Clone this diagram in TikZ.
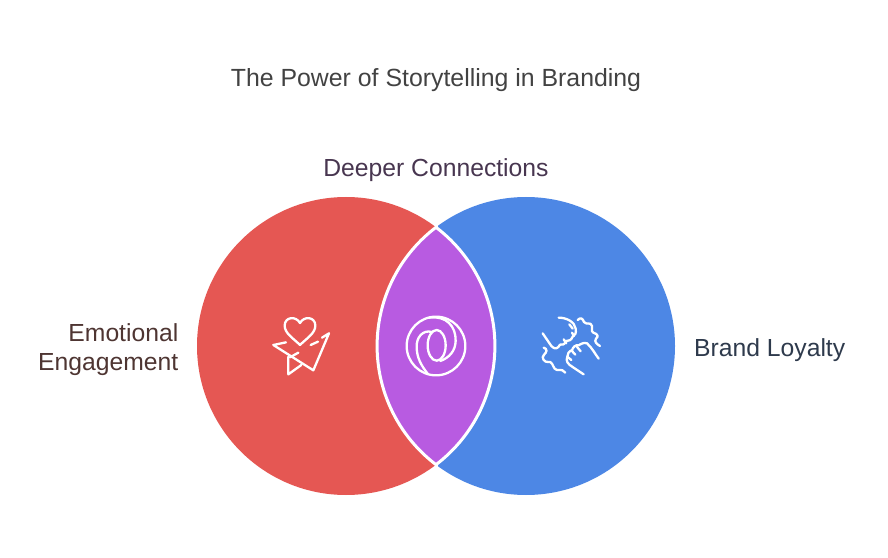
\documentclass[tikz,border=0pt]{standalone}
\usepackage{fontspec}
\setmainfont{Liberation Sans}
\usepackage{xcolor}
\definecolor{circleColorA}{HTML}{E55753}
\definecolor{circleColorB}{HTML}{4D87E5}
\definecolor{lensColor}{HTML}{B85BE1}
\definecolor{titleColor}{HTML}{424242}
\definecolor{labelColorA}{HTML}{4E3532}
\definecolor{labelColorB}{HTML}{2E3A4C}
\definecolor{labelColorC}{HTML}{483650}
\def\textTitle{The Power of Storytelling in Branding}
\def\textA{Emotional\\Engagement}
\def\textB{Brand Loyalty}
\def\textC{Deeper Connections}
\tikzset{
  label text/.style={inner sep=0pt, font=\fontsize{24.7bp}{29bp}\selectfont},
  icon line/.style={draw=white, line width=2.3bp, line cap=round, line join=round},
}
\begin{document}
\begin{tikzpicture}[x=1bp,y=-1bp]
\useasboundingbox (0, 0) rectangle (888, 558);

\coordinate (centerA) at (346, 346);
\coordinate (centerB) at (526, 346);
\coordinate (lensTop) at (436, 227.3);
\coordinate (lensBottom) at (436, 464.7);

% circle layer
\begin{scope}
\fill[circleColorA] (centerA) circle (149);
\fill[circleColorB] (centerB) circle (149);
\fill[lensColor, draw=white, line width=3bp, line join=miter]
(lensTop) arc[start angle=-52.8, end angle=52.8, radius=149]
arc[start angle=127.2, end angle=232.8, radius=149] -- cycle;
\draw[white, line width=3bp] (lensTop) -- ++(0, -5);
\draw[white, line width=3bp] (lensBottom) -- ++(0, 5);
\end{scope}

% label layer
\begin{scope}
\node[label text, text=titleColor, font=\fontsize{24.85bp}{29bp}\selectfont] (title) at (436, 80) {\textTitle};
\node[label text, text=labelColorC] (labelC) at (436, 170) {\textC};
\node[label text, text=labelColorA, align=right, anchor=east] (labelA) at (178.5, 350) {\textA};
\node[label text, text=labelColorB, anchor=west] (labelB) at (694, 350) {\textB};
\end{scope}

% icon layer
\begin{scope}[shift={(260, 305)}, scale=1/3]
% heart
\draw[icon line] (120, 120) .. controls (100, 100) and (74, 85) .. (74, 62)
.. controls (74, 35) and (108, 32) .. (120, 54)
.. controls (132, 32) and (166, 35) .. (166, 62)
.. controls (166, 85) and (140, 100) .. (120, 120) -- cycle;
% plane
\draw[icon line] (186, 98) -- (207, 85) -- (160, 196) -- (40, 120) -- (78, 112);
\draw[icon line] (152, 120) -- (174, 110);
\draw[icon line] (90, 157) -- (115, 143);
\draw[icon line] (85, 155) -- (85, 208) -- (124, 180);
\end{scope}

\begin{scope}[shift={(396, 306)}, scale=1/3]
\draw[white, line width=2.3bp] (120, 120) circle (88);
\draw[white, line width=2.3bp] (122, 118) ellipse (27 and 46);
\draw[icon line] (100, 35) .. controls (150, 28) and (180, 60) .. (179, 105)
.. controls (178, 135) and (160, 155) .. (133, 165);
\draw[icon line] (108, 78) .. controls (80, 70) and (60, 95) .. (62, 125)
.. controls (63, 155) and (75, 178) .. (95, 203);
\end{scope}

\begin{scope}[shift={(532, 306)}, scale=1/3]
% upper hand
\draw[icon line] (80, 35) .. controls (105, 35) and (128, 48) .. (131, 68)
.. controls (133, 82) and (130, 88) .. (122, 92)
.. controls (118, 102) and (110, 106) .. (103, 105)
.. controls (98, 116) and (90, 118) .. (84, 116)
.. controls (78, 128) and (68, 132) .. (58, 120)
-- (32, 82);
\draw[icon line] (112, 55) -- (122, 68);
\draw[icon line] (120, 80) -- (126, 90);
\draw[icon line] (95, 100) -- (103, 112);
\draw[icon line] (137, 42) .. controls (145, 34) and (152, 36) .. (156, 48)
.. controls (164, 58) and (176, 46) .. (180, 60)
.. controls (184, 70) and (174, 72) .. (184, 80)
.. controls (198, 84) and (200, 92) .. (192, 98)
.. controls (186, 108) and (194, 114) .. (204, 120);
% lower hand
\draw[icon line] (200, 158) .. controls (190, 145) and (180, 125) .. (165, 112)
.. controls (155, 108) and (145, 115) .. (140, 118)
.. controls (130, 115) and (122, 125) .. (120, 133)
.. controls (110, 135) and (106, 145) .. (106, 152)
.. controls (100, 165) and (108, 175) .. (122, 183)
-- (155, 205);
\draw[icon line] (133, 120) -- (146, 136);
\draw[icon line] (118, 133) -- (130, 146);
\draw[icon line] (106, 152) -- (118, 162);
\draw[icon line] (35, 125) .. controls (48, 128) and (44, 140) .. (36, 146)
.. controls (26, 155) and (38, 170) .. (48, 168)
.. controls (60, 164) and (62, 180) .. (68, 188)
.. controls (76, 198) and (88, 184) .. (100, 200);
\end{scope}

\end{tikzpicture}
\end{document}
